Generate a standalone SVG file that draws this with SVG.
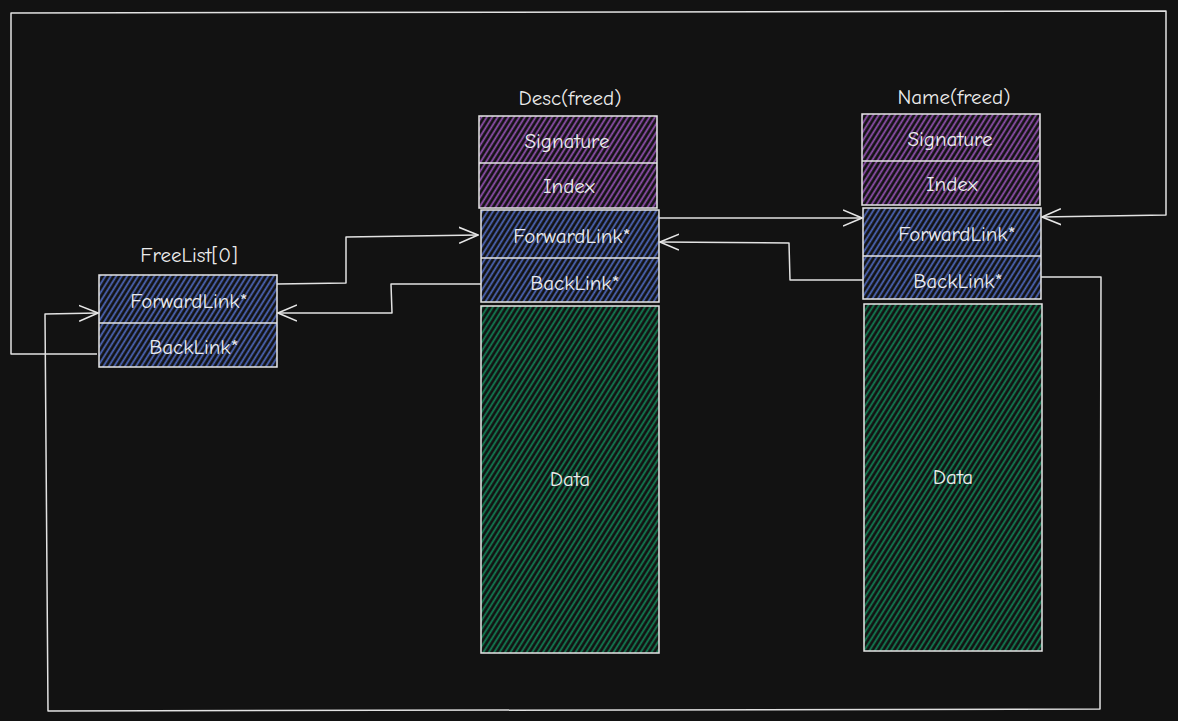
<svg xmlns="http://www.w3.org/2000/svg" width="1178" height="721" viewBox="0 0 1178 721">
<defs>
<pattern id="hP" patternUnits="userSpaceOnUse" width="4.6" height="10" patternTransform="rotate(32)"><line x1="1.2" y1="0" x2="1.2" y2="10" stroke="#9050ad" stroke-width="1.8"/></pattern>
<pattern id="hB" patternUnits="userSpaceOnUse" width="4.6" height="10" patternTransform="rotate(32)"><line x1="1.2" y1="0" x2="1.2" y2="10" stroke="#4d66b8" stroke-width="1.8"/></pattern>
<pattern id="hG" patternUnits="userSpaceOnUse" width="4.6" height="10" patternTransform="rotate(32)"><line x1="1.2" y1="0" x2="1.2" y2="10" stroke="#137d53" stroke-width="1.8"/></pattern>
<marker id="ar" viewBox="0 0 20 20" refX="19" refY="10" markerWidth="20" markerHeight="20" markerUnits="userSpaceOnUse" orient="auto"><path d="M0,2 L19,10 L0,18" fill="none" stroke="#e6e6e6" stroke-width="1.5"/></marker>
<style>
.box{stroke:#e6e6e6;stroke-width:1.5;}
.div{stroke:#e6e6e6;stroke-width:1.5;fill:none;}
.t{font-family:"Comic Neue","Liberation Sans",sans-serif;font-size:21px;fill:#ececec;text-anchor:middle;dominant-baseline:central;}
.c{fill:none;stroke:#e2e2e2;stroke-width:1.5;stroke-linejoin:round;}
</style>
</defs>
<rect width="1178" height="721" fill="#121212"/>

<g id="freelist">
<text class="t" x="189" y="255">FreeList[0]</text>
<rect class="box" x="99" y="275" width="178" height="92" fill="url(#hB)"/>
<line class="div" x1="99" y1="323" x2="277" y2="323"/>
<text class="t" x="189" y="301">ForwardLink*</text>
<text class="t" x="194" y="347">BackLink*</text>
</g>

<g id="desc">
<text class="t" x="570" y="98">Desc(freed)</text>
<rect class="box" x="479" y="116" width="178" height="92" fill="url(#hP)"/>
<line class="div" x1="479" y1="163" x2="657" y2="163"/>
<text class="t" x="567" y="141">Signature</text>
<text class="t" x="569" y="186">Index</text>
<rect class="box" x="481" y="210" width="178" height="92" fill="url(#hB)"/>
<line class="div" x1="481" y1="258" x2="659" y2="258"/>
<text class="t" x="572" y="236">ForwardLink*</text>
<text class="t" x="575" y="283">BackLink*</text>
<rect class="box" x="481" y="306" width="178" height="347" fill="url(#hG)"/>
<text class="t" x="570" y="479">Data</text>
</g>

<g id="name">
<text class="t" x="954" y="97">Name(freed)</text>
<rect class="box" x="862" y="114" width="178" height="91" fill="url(#hP)"/>
<line class="div" x1="862" y1="161" x2="1040" y2="161"/>
<text class="t" x="950" y="139">Signature</text>
<text class="t" x="952" y="184">Index</text>
<rect class="box" x="863" y="208" width="178" height="91" fill="url(#hB)"/>
<line class="div" x1="863" y1="256" x2="1041" y2="256"/>
<text class="t" x="957" y="234">ForwardLink*</text>
<text class="t" x="958" y="281">BackLink*</text>
<rect class="box" x="864" y="304" width="178" height="347" fill="url(#hG)"/>
<text class="t" x="953" y="477">Data</text>
</g>

<g id="connectors">
<polyline class="c" points="277,284 346,283 346,237 478,235" marker-end="url(#ar)"/>
<polyline class="c" points="481,284 391,284 392,313 278,313" marker-end="url(#ar)"/>
<polyline class="c" points="659,218 862,218" marker-end="url(#ar)"/>
<polyline class="c" points="863,280 790,280 789,243 660,242" marker-end="url(#ar)"/>
<polyline class="c" points="97,354 11,354 11,13 1166,11 1166,215 1042,217" marker-end="url(#ar)"/>
<polyline class="c" points="1041,277 1101,277 1100,709 48,711 45,314 98,313" marker-end="url(#ar)"/>
</g>
</svg>
